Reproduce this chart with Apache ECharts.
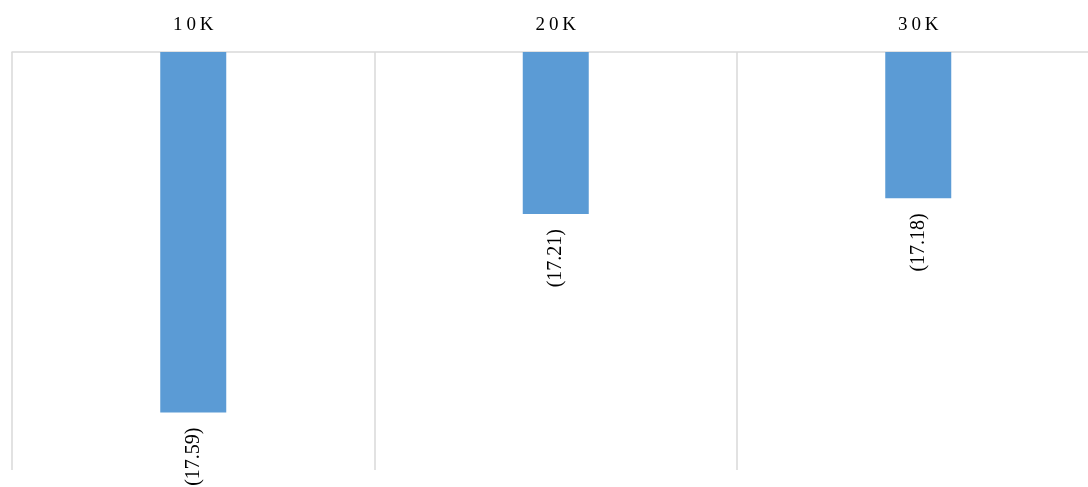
<!DOCTYPE html>
<html>
<head>
<meta charset="utf-8">
<style>
  html, body { margin: 0; padding: 0; background: #ffffff; overflow: hidden; }
  #chart { width: 1100px; height: 487px; }
</style>
<script src="https://cdn.jsdelivr.net/npm/echarts@6/dist/echarts.min.js"></script>
</head>
<body>
<div id="chart"></div>
<script>
// Category names and bar values
const categories = ['10K', '20K', '30K'];
const values = [-17.59, -17.21, -17.18];

// Value range of the hidden vertical axis
const axisMin = -17.7;
const axisMax = -16.9;

const chart = echarts.init(document.getElementById('chart'), null, { renderer: 'canvas' });

// Spread the characters of the category names a little
const spaced = s => s.split('').join('\u2009');

chart.setOption({
  animation: false,
  backgroundColor: '#ffffff',
  grid: { left: 12, top: 52, right: 0.5, bottom: 17 },
  xAxis: {
    type: 'category',
    position: 'top',
    data: categories,
    boundaryGap: true,
    axisLine: { show: true, lineStyle: { color: '#d9d9d9', width: 1.5 } },
    axisTick: { show: false },
    axisLabel: {
      formatter: v => spaced(v),
      margin: 17,
      color: '#000000',
      fontFamily: '"Liberation Serif", "Times New Roman", serif',
      fontSize: 19
    },
    splitLine: { show: true, interval: 0, lineStyle: { color: '#d9d9d9', width: 1.5 } }
  },
  yAxis: {
    type: 'value',
    min: axisMin,
    max: axisMax,
    show: false
  },
  series: [{
    type: 'bar',
    data: values,
    barWidth: 66,
    itemStyle: { color: '#5b9bd5' },
    label: {
      show: true,
      position: 'bottom',
      distance: 15,
      rotate: 90,
      align: 'right',
      verticalAlign: 'middle',
      color: '#000000',
      fontFamily: '"Liberation Serif", "Times New Roman", serif',
      fontSize: 20,
      formatter: p => '(' + Math.abs(p.value).toFixed(2) + ')'
    }
  }]
});
</script>
</body>
</html>
